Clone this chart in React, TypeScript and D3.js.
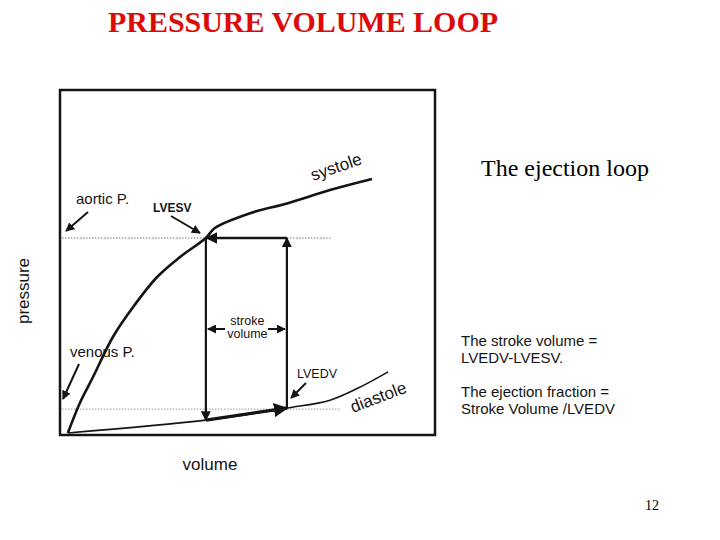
import React from "react";
import * as d3 from "d3";

// volume (x) / pressure (y) readings, arbitrary units 0-100
const systoleVol = [2.1, 5.3, 8.8, 14.1, 19.5, 25.9, 32.0, 38.9, 41.3, 50.7, 60.8, 72.0, 83.2];
const systolePres = [0.6, 9.3, 16.8, 28.4, 37.1, 45.8, 51.6, 57.1, 60.0, 64.3, 67.2, 71.0, 74.2];
const diastoleVol = [2.1, 38.9, 60.5, 72.0, 79.5, 87.5];
const diastolePres = [0.6, 4.3, 7.8, 10.1, 13.6, 18.3];

const LVESV = 38.9;
const LVEDV = 60.5;
const aorticP = 57.1;
const venousP = 7.5;
const edPres = 7.8; // end-diastolic pressure at LVEDV
const esDiastole = 4.3; // diastole pressure at LVESV

const infoLines = [
  "The stroke volume =",
  "LVEDV-LVESV.",
  "The ejection fraction =",
  "Stroke Volume /LVEDV",
];

const W = 720;
const H = 540;
const box = { left: 60, top: 90, right: 435, bottom: 435 };
const ink = "#141414";
const sans = "'Liberation Sans', Arial, sans-serif";
const serif = "'Liberation Serif', 'Times New Roman', serif";

export default function App() {
  const x = d3.scaleLinear().domain([0, 100]).range([box.left, box.right]);
  const y = d3.scaleLinear().domain([0, 100]).range([box.bottom, box.top]);

  const line = d3
    .line<[number, number]>()
    .x((d) => x(d[0]))
    .y((d) => y(d[1]))
    .curve(d3.curveCatmullRom.alpha(0.5));

  const systole = systoleVol.map((v, i) => [v, systolePres[i]] as [number, number]);
  const diastole = diastoleVol.map((v, i) => [v, diastolePres[i]] as [number, number]);

  const arrow = (x1: number, y1: number, x2: number, y2: number, key: string, w = 2) => (
    <line key={key} x1={x1} y1={y1} x2={x2} y2={y2} stroke={ink} strokeWidth={w} markerEnd="url(#head)" />
  );

  const svX = (x(LVESV) + x(LVEDV)) / 2;
  const svY = 329;

  return (
    <svg width={W} height={H} style={{ position: "absolute", left: 0, top: 0, background: "#fff" }}>
      <defs>
        <marker id="head" viewBox="0 0 10 10" refX="9" refY="5" markerWidth="4.5" markerHeight="4.5" orient="auto">
          <path d="M0,0 L10,5 L0,10 z" fill={ink} />
        </marker>
      </defs>

      <text x={108} y={32} fontFamily={serif} fontSize={29} fontWeight="bold" fill="#dd0a0a"
        textLength={390} lengthAdjust="spacingAndGlyphs">
        PRESSURE VOLUME LOOP
      </text>

      {/* frame */}
      <rect x={box.left} y={box.top} width={box.right - box.left} height={box.bottom - box.top}
        fill="none" stroke={ink} strokeWidth={2.5} />

      {/* dotted reference pressures */}
      <line x1={box.left + 2} x2={x(72.5)} y1={y(aorticP)} y2={y(aorticP)} stroke="#777" strokeWidth={1} strokeDasharray="1.5,1.5" />
      <line x1={box.left + 2} x2={x(74.5)} y1={y(venousP)} y2={y(venousP)} stroke="#999" strokeWidth={1} strokeDasharray="1.5,1.5" />

      {/* curves */}
      <path d={line(systole) ?? ""} fill="none" stroke={ink} strokeWidth={2.6} />
      <path d={line(diastole) ?? ""} fill="none" stroke={ink} strokeWidth={1.6} />

      {/* ejection loop */}
      <line x1={x(LVESV)} x2={x(LVESV)} y1={y(aorticP)} y2={y(esDiastole)} stroke={ink} strokeWidth={2.2} markerEnd="url(#head)" />
      <line x1={x(LVEDV)} x2={x(LVEDV)} y1={y(edPres)} y2={y(aorticP)} stroke={ink} strokeWidth={2.2} markerEnd="url(#head)" />
      <line x1={x(LVEDV)} x2={x(LVESV) + 1} y1={y(aorticP)} y2={y(aorticP)} stroke={ink} strokeWidth={2.6} markerEnd="url(#head)" />
      <line x1={x(LVESV)} x2={x(LVEDV)} y1={y(esDiastole)} y2={y(edPres)} stroke={ink} strokeWidth={3.2} markerEnd="url(#head)" />

      {/* stroke volume marker */}
      <text x={svX + 1} y={svY - 4} fontFamily={sans} fontSize={12.5} textAnchor="middle" fill={ink}>stroke</text>
      <text x={svX + 1} y={svY + 9} fontFamily={sans} fontSize={12.5} textAnchor="middle" fill={ink}>volume</text>
      {arrow(225, svY, x(LVESV) + 2, svY, "sv1")}
      {arrow(268, svY, x(LVEDV) - 2, svY, "sv2")}

      {/* annotations */}
      <text x={76} y={204} fontFamily={sans} fontSize={15} fill={ink}>aortic P.</text>
      {arrow(88, 212, 66, 231, "a1")}
      <text x={153} y={212} fontFamily={sans} fontSize={12} fontWeight="bold" fill={ink}>LVESV</text>
      {arrow(171, 216, 200, 233, "a2")}
      <text x={70} y={357} fontFamily={sans} fontSize={15} fill={ink}>venous P.</text>
      {arrow(79, 364, 63, 399, "a3")}
      <text x={297} y={378} fontFamily={sans} fontSize={12.5} fill={ink}>LVEDV</text>
      {arrow(306, 383, 291, 398, "a4")}

      <text x={313} y={181} fontFamily={sans} fontSize={17} fill={ink} transform="rotate(-19 313 181)">systole</text>
      <text x={353} y={413} fontFamily={sans} fontSize={17} fill={ink} transform="rotate(-21 353 413)">diastole</text>

      <text transform="translate(29,291) rotate(-90)" fontFamily={sans} fontSize={17} textAnchor="middle" fill={ink}>pressure</text>
      <text x={210} y={470} fontFamily={sans} fontSize={17} textAnchor="middle" fill={ink}>volume</text>

      <text x={481} y={176} fontFamily={serif} fontSize={24} fill="#000">The ejection loop</text>

      {infoLines.map((t, i) => (
        <text key={t} x={461} y={346 + i * 17 + (i >= 2 ? 17 : 0)} fontFamily={sans} fontSize={15} fill={ink}>{t}</text>
      ))}

      <text x={645} y={510} fontFamily={serif} fontSize={14} fill="#000">12</text>
    </svg>
  );
}
